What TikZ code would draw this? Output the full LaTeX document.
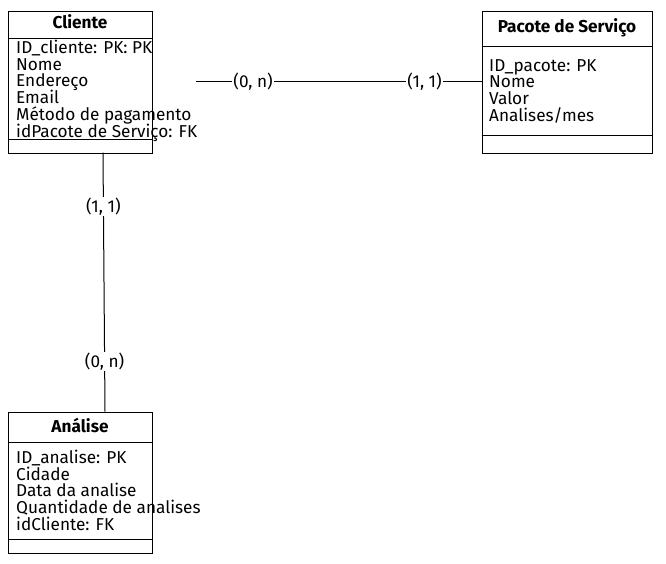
\documentclass[tikz,border=0pt]{standalone}
\usepackage{fontspec}
\setmainfont{Fira Sans}
\begin{document}
\begin{tikzpicture}[x=1pt,y=-1pt,
  box/.style={draw,line width=1pt,minimum width=143.5pt,anchor=north west,inner sep=0pt},
  attr/.style={anchor=base west,inner sep=0pt,font=\fontsize{17.2}{17}\selectfont},
  ttl/.style={anchor=base,inner sep=0pt,font=\fontsize{17.2}{17}\selectfont\bfseries},
  lbl/.style={fill=white,inner sep=1pt,font=\fontsize{17.2}{17}\selectfont},
  conn/.style={line width=1pt}]
\useasboundingbox (0,0) rectangle (666,563);
% Cliente
\node[box,minimum height=142pt] (cliente) at (8,10.7) {};
\draw[line width=1pt] (8,38.3) -- (151.5,38.3) (8,139.3) -- (151.5,139.3);
\node[ttl] (tc) at (80,28.5) {Cliente};
\foreach \t [count=\i] in {ID\_cliente: PK: PK,Nome,Endereço,Email,Método de pagamento,idPacote de Serviço: FK}
  \node[attr] (c\i) at (16,{53.3+16.8*(\i-1)}) {\t};
% Pacote
\node[box,minimum width=170.5pt,minimum height=142pt] (pacote) at (481.7,10.7) {};
\draw[line width=1pt] (481.7,46) -- (652.2,46) (481.7,135) -- (652.2,135);
\node[ttl] (tp) at (567,32.5) {Pacote de Serviço};
\foreach \t [count=\i] in {ID\_pacote: PK,Nome,Valor,Analises/mes}
  \node[attr] (p\i) at (489,{71.3+16.6*(\i-1)}) {\t};
% Analise
\node[box,minimum height=141.6pt] (analise) at (8,411.7) {};
\draw[line width=1pt] (8,442.7) -- (151.5,442.7) (8,539.3) -- (151.5,539.3);
\node[ttl] (ta) at (80,432.5) {Análise};
\foreach \t [count=\i] in {ID\_analise: PK,Cidade,Data da analise,Quantidade de analises,idCliente: FK}
  \node[attr] (a\i) at (16,{463.3+16.8*(\i-1)}) {\t};
% connectors
\coordinate (h0) at (196,81.7);
\draw[conn] (h0) -- node[lbl,pos=0.2] (l1) {(0, n)} node[lbl,pos=0.8] (l2) {(1, 1)} (h0 -| pacote.west);
\coordinate (v0) at (103,152.7);
\coordinate (v1) at (105,411.7);
\draw[conn] (v0) -- node[lbl,pos=0.207] (l3) {(1, 1)} node[lbl,pos=0.807] (l4) {(0, n)} (v1);
\end{tikzpicture}
\end{document}
